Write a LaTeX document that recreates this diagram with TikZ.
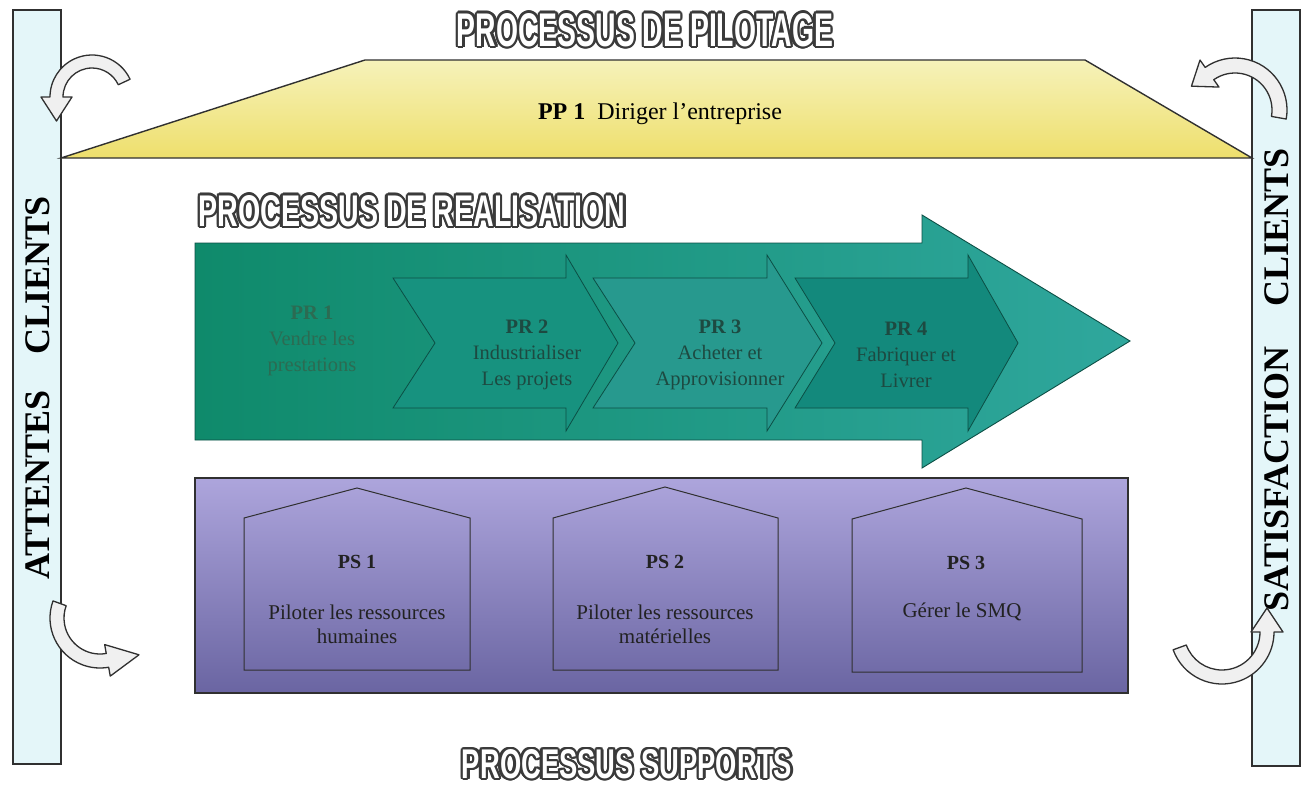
\documentclass[tikz,border=0pt]{standalone}
\usepackage{fontspec}
\setmainfont{Liberation Serif}
\newfontfamily\titlefont{Liberation Sans}
\usepackage{graphicx}
\usetikzlibrary{calc}

\definecolor{barfill}{HTML}{E4F6F9}
\definecolor{lineC}{HTML}{303030}
\definecolor{ttlline}{HTML}{3A3A3A}
\definecolor{yelT}{HTML}{F6F2BA}
\definecolor{yelB}{HTML}{EEDF6C}
\definecolor{grL}{HTML}{0F8A6B}
\definecolor{grR}{HTML}{2FA79D}
\definecolor{grEdge}{HTML}{0C4F45}
\definecolor{chevA}{HTML}{17927F}
\definecolor{chevB}{HTML}{27998E}
\definecolor{chevC}{HTML}{13897C}
\definecolor{grText}{HTML}{1D4A41}
\definecolor{grTextA}{HTML}{2C6B52}
\definecolor{purT}{HTML}{ADA5DC}
\definecolor{purM}{HTML}{9C95D1}
\definecolor{purB}{HTML}{6A65A2}
\definecolor{psText}{HTML}{222222}

\newcommand\ttlbox[3]{\resizebox{#1}{#2}{\titlefont\bfseries #3}}
\newcommand\outltitle[5]{%
  \foreach \a in {0,22.5,...,337.5}{\node[inner sep=0pt,text=ttlline] at ([shift={(\a:2.3pt)}]#2) {\ttlbox{#3}{#4}{#5}};}
  \node[inner sep=0pt,text=white] (#1) at (#2) {\ttlbox{#3}{#4}{#5}};}
\newcommand\chev[5]{%
  \draw[#5] (#1,278) -- (#3,278) -- (#3,255) -- (#4,343) -- (#3,431) -- (#3,408) -- (#1,408) -- (#2,343) -- cycle;}
\newcommand\curvarr[9]{%
  \draw[carrow] ($(#1,#2)+(#5:#3)$) arc[start angle=#5,end angle=#6,radius=#3]
    -- ($(#1,#2)+(#6:{#3+#9})$)
    -- ($(#1,#2)+(#6:{(#3+#4)/2})+({#6+(#7)}:#8)$)
    -- ($(#1,#2)+(#6:{#4-#9})$)
    -- ($(#1,#2)+(#6:#4)$)
    arc[start angle=#6,end angle=#5,radius=#4] -- cycle;}

\begin{document}
\begin{tikzpicture}[x=1pt,y=-1pt,
  bar/.style={draw=lineC,line width=1.6pt,fill=barfill},
  vtext/.style={rotate=90,font=\fontsize{36pt}{40pt}\selectfont\bfseries,text=black,inner sep=0pt},
  carrow/.style={draw=lineC,line width=1.3pt,fill=gray!12,line join=round},
  chevstyle/.style={draw=grEdge,line width=0.8pt},
  prtext/.style={align=center,font=\fontsize{20.5pt}{26pt}\selectfont,text=grText},
  pstext/.style={align=center,font=\fontsize{21pt}{24pt}\selectfont,text=psText},
  psbold/.style={align=center,font=\fontsize{20pt}{24pt}\selectfont\bfseries,text=psText},
  house/.style={draw=lineC,line width=1pt}]
\useasboundingbox (0,0) rectangle (1306,787);
\fill[white] (0,0) rectangle (1306,787);

% side bars
\draw[bar] (13,10) rectangle (61,764);
\draw[bar] (1252,10) rectangle (1300,766);
\node[vtext] (att) at (38,388) {ATTENTES\hspace{1em}CLIENTS};
\node[vtext] (sat) at (1277,380) {SATISFACTION\hspace{1.1em}CLIENTS};

% pilotage
\draw[draw=lineC,line width=1.4pt,top color=yelT,bottom color=yelB]
  (61,158) -- (365,60) -- (1085,60) -- (1252,158) -- cycle;
\node[font=\fontsize{24pt}{26pt}\selectfont] (pp1) at (660,114) {\textbf{PP 1}\enspace Diriger l'entreprise};

% titles
\outltitle{t1}{645,30}{376pt}{33pt}{PROCESSUS DE PILOTAGE}
\outltitle{t2}{412,211}{427pt}{31pt}{PROCESSUS DE REALISATION}
\outltitle{t3}{627,764}{330pt}{29pt}{PROCESSUS SUPPORTS}

% realisation big arrow
\draw[draw=grEdge,line width=0.9pt,left color=grL,right color=grR]
  (195,243) -- (922,243) -- (922,215) -- (1130,341) -- (922,468) -- (922,440) -- (195,440) -- cycle;
\chev{393}{435}{566}{618}{chevstyle,fill=chevA}
\chev{593}{635}{767}{822}{chevstyle,fill=chevB}
\chev{795}{835}{968}{1018}{chevstyle,fill=chevC}
\node[prtext,text=grTextA] (pr1) at (312,341) {\textbf{PR 1}\\Vendre les\\prestations};
\node[prtext] (pr2) at (527,355) {\textbf{PR 2}\\Industrialiser\\Les projets};
\node[prtext] (pr3) at (720,355) {\textbf{PR 3}\\Acheter et\\Approvisionner};
\node[prtext] (pr4) at (906,355) {\textbf{PR 4}\\Fabriquer et\\Livrer};

% supports
\draw[draw=lineC,line width=1.2pt,top color=purT,middle color=purM,bottom color=purB]
  (195,478) rectangle (1128,693);
\draw[house] (244,670) -- (244,518) -- (357,488) -- (470,518) -- (470,670) -- cycle;
\draw[house] (553,670) -- (553,518) -- (665,487) -- (778,518) -- (778,670) -- cycle;
\draw[house] (852,672) -- (852,519) -- (966,488) -- (1082,519) -- (1082,672) -- cycle;
\node[psbold] (ps1) at (357,562) {PS 1};
\node[pstext] (ps1t) at (357,624) {Piloter les ressources\\humaines};
\node[psbold] (ps2) at (665,562) {PS 2};
\node[pstext] (ps2t) at (665,624) {Piloter les ressources\\matérielles};
\node[psbold] (ps3) at (966,563) {PS 3};
\node[pstext] (ps3t) at (962,612) {Gérer le SMQ};

% curved arrows
\curvarr{92}{97}{42}{29}{-25}{-180}{-90}{24}{9}
\curvarr{1235}{110}{52}{37}{10}{-125}{-90}{22}{9}
\curvarr{100}{618}{50}{36}{200}{80}{-90}{32}{9}
\curvarr{1222}{632}{52}{38}{160}{0}{-90}{24}{9}
\end{tikzpicture}
\end{document}
